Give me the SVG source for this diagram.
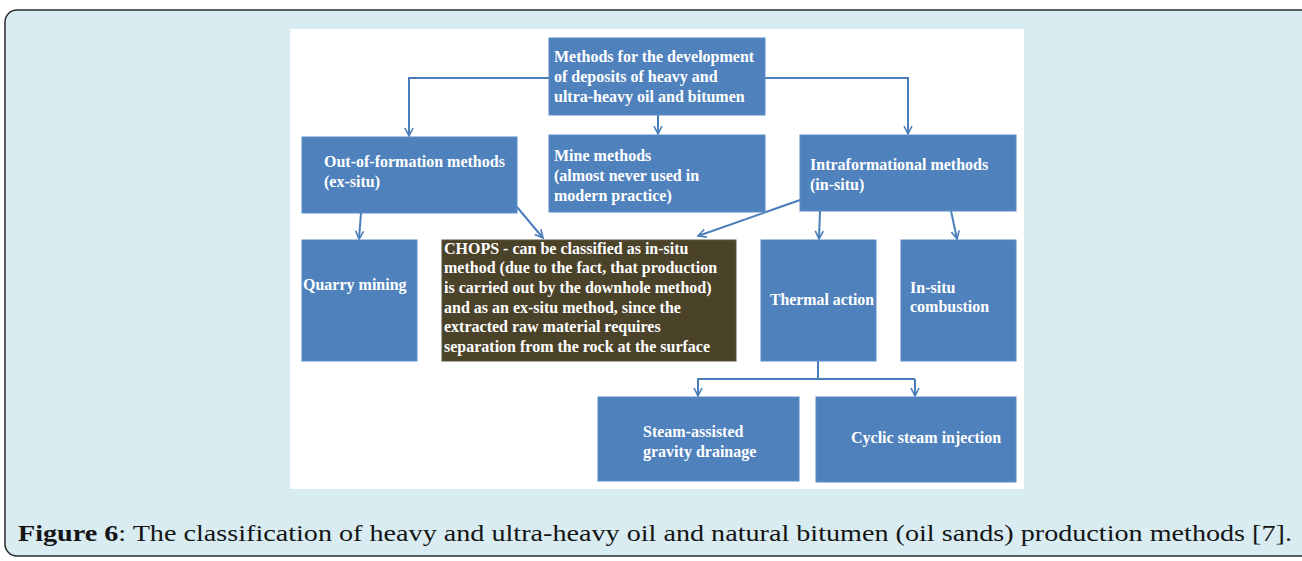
<svg xmlns="http://www.w3.org/2000/svg" width="1302" height="561" viewBox="0 0 1302 561">
<style>
.box{fill:#4f81bd;stroke:#5a8cc8;stroke-width:1}
.t{font-family:"Liberation Serif",serif;font-size:16px;font-weight:bold;fill:#ffffff}
.c{stroke:#4a7ebb;stroke-width:2;fill:none;marker-end:url(#ah)}
.cap{font-family:"Liberation Serif",serif;font-size:24px;fill:#151515}
</style>
<defs>
<marker id="ah" viewBox="0 0 10 10" refX="9" refY="5" markerWidth="5" markerHeight="5" orient="auto" markerUnits="strokeWidth">
<path d="M1,1 L9,5 L1,9" fill="none" stroke="#4a7ebb" stroke-width="1.6"/>
</marker>
</defs>
<rect x="5" y="10" width="1320" height="546" rx="12" fill="#d8ecf1" stroke="#2b2b2b" stroke-width="1.5"/>
<rect x="290" y="29" width="734" height="460" fill="#ffffff"/>
<g id="connectors">
<path class="c" d="M549,78 H409 V136"/>
<path class="c" d="M765,78 H908 V134"/>
<path class="c" d="M658,115 V134"/>
<path class="c" d="M361,213 L359,239"/>
<path class="c" d="M517,207 L543,238"/>
<path class="c" d="M800,200 L698,236"/>
<path class="c" d="M820,211 L819,239"/>
<path class="c" d="M951,211 L957,239"/>
<path d="M818,361 V379 M697,379 H915" stroke="#4a7ebb" stroke-width="2" fill="none"/>
<path class="c" d="M698,379 V396"/>
<path class="c" d="M915,379 V396"/>
</g>
<g id="top">
<rect class="box" x="549" y="38" width="216" height="77"/>
<text class="t" x="554" y="62">Methods for the development</text>
<text class="t" x="554" y="82">of deposits of heavy and</text>
<text class="t" x="554" y="102">ultra-heavy oil and bitumen</text>
</g>
<g id="exsitu">
<rect class="box" x="302" y="137" width="215" height="76"/>
<text class="t" x="324" y="167">Out-of-formation methods</text>
<text class="t" x="324" y="187">(ex-situ)</text>
</g>
<g id="mine">
<rect class="box" x="549" y="135" width="216" height="77"/>
<text class="t" x="554" y="161">Mine methods</text>
<text class="t" x="554" y="181">(almost never used in</text>
<text class="t" x="554" y="201">modern practice)</text>
</g>
<g id="insitu">
<rect class="box" x="800" y="135" width="216" height="76"/>
<text class="t" x="810" y="170">Intraformational methods</text>
<text class="t" x="810" y="190">(in-situ)</text>
</g>
<g id="quarry">
<rect class="box" x="302" y="240" width="115" height="121"/>
<text class="t" x="303" y="290">Quarry mining</text>
</g>
<g id="chops">
<rect x="442" y="240" width="294" height="121" fill="#4a4229" stroke="#5a5238" stroke-width="1"/>
<text class="t" x="444" y="254">CHOPS - can be classified as in-situ</text>
<text class="t" x="444" y="273">method (due to the fact, that production</text>
<text class="t" x="444" y="293">is carried out by the downhole method)</text>
<text class="t" x="444" y="313">and as an ex-situ method, since the</text>
<text class="t" x="444" y="332">extracted raw material requires</text>
<text class="t" x="444" y="352">separation from the rock at the surface</text>
</g>
<g id="thermal">
<rect class="box" x="761" y="240" width="115" height="121"/>
<text class="t" x="770" y="305" textLength="104" lengthAdjust="spacingAndGlyphs">Thermal action</text>
</g>
<g id="combustion">
<rect class="box" x="901" y="240" width="115" height="121"/>
<text class="t" x="910" y="293">In-situ</text>
<text class="t" x="910" y="312">combustion</text>
</g>
<g id="sagd">
<rect class="box" x="598" y="397" width="201" height="84"/>
<text class="t" x="643" y="437">Steam-assisted</text>
<text class="t" x="643" y="457">gravity drainage</text>
</g>
<g id="cyclic">
<rect class="box" x="816" y="397" width="200" height="85"/>
<text class="t" x="851" y="443">Cyclic steam injection</text>
</g>
<text class="cap" x="18" y="541" textLength="1274" lengthAdjust="spacingAndGlyphs"><tspan font-weight="bold">Figure 6</tspan>: The classification of heavy and ultra-heavy oil and natural bitumen (oil sands) production methods [7].</text>
</svg>
